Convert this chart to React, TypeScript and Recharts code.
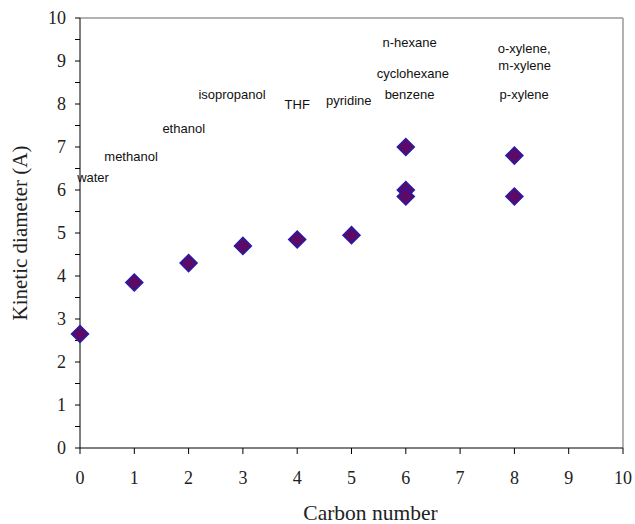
import React from "react";
import {
  ScatterChart,
  Scatter,
  XAxis,
  YAxis,
  ReferenceLine,
  Label,
} from "recharts";

// measured kinetic diameters against carbon number
const carbonNumber = [0, 1, 2, 3, 4, 5, 6, 6, 6, 8, 8];
const diameter = [2.65, 3.85, 4.3, 4.7, 4.85, 4.95, 7.0, 6.0, 5.85, 6.8, 5.85];

// molecule names and where they sit in data units
const labelText = [
  "water",
  "methanol",
  "ethanol",
  "isopropanol",
  "THF",
  "pyridine",
  "n-hexane",
  "cyclohexane",
  "benzene",
  "o-xylene,",
  "m-xylene",
  "p-xylene",
];
const labelX = [0.24, 0.94, 1.91, 2.8, 4.0, 4.95, 6.07, 6.13, 6.07, 8.18, 8.19, 8.18];
const labelY = [6.28, 6.79, 7.42, 8.23, 8.0, 8.09, 9.42, 8.7, 8.23, 9.3, 8.9, 8.23];

const xTicks = [0, 1, 2, 3, 4, 5, 6, 7, 8, 9, 10];
const yTicks = [
  0, 0.5, 1, 1.5, 2, 2.5, 3, 3.5, 4, 4.5, 5, 5.5, 6, 6.5, 7, 7.5, 8, 8.5, 9,
  9.5, 10,
];

const points = carbonNumber.map((c, i) => ({ x: c, y: diameter[i] }));
const labels = labelText.map((t, i) => ({ x: labelX[i], y: labelY[i], text: t }));

const serif = "'Liberation Serif', 'Times New Roman', serif";
const sans = "'Liberation Sans', Arial, sans-serif";

const Diamond = (props: any) => {
  const { cx, cy } = props;
  const r = 8.5;
  return (
    <polygon
      points={`${cx},${cy - r} ${cx + r},${cy} ${cx},${cy + r} ${cx - r},${cy}`}
      fill="#5c0a66"
      stroke="#2a1aa8"
      strokeWidth={1.5}
    />
  );
};

const NameLabel = (props: any) => {
  const { cx, cy, payload } = props;
  return (
    <text
      x={cx}
      y={cy}
      textAnchor="middle"
      dominantBaseline="central"
      fontFamily={sans}
      fontSize={13}
      fill="#111"
    >
      {payload.text}
    </text>
  );
};

export default function App() {
  return (
    <div
      style={{
        position: "absolute",
        left: 0,
        top: 0,
        width: 635,
        height: 524,
        overflow: "hidden",
        background: "#fff",
      }}
    >
      <ScatterChart
        width={635}
        height={524}
        margin={{ top: 18, right: 12, bottom: 0, left: 0 }}
      >
        <XAxis
          type="number"
          dataKey="x"
          domain={[0, 10]}
          ticks={xTicks}
          interval={0}
          height={76}
          tickSize={6}
          tickMargin={17}
          stroke="#000"
          tick={{ fill: "#222", fontFamily: serif, fontSize: 18 }}
        >
          <Label
            value="Carbon number"
            position="insideBottom"
            offset={4}
            dx={19}
            style={{ fill: "#222", fontFamily: serif, fontSize: 21.5 }}
          />
        </XAxis>
        <YAxis
          type="number"
          dataKey="y"
          domain={[0, 10]}
          ticks={yTicks}
          interval={0}
          width={80}
          tickSize={5}
          tickMargin={9}
          stroke="#000"
          tickFormatter={(v: number) => (Number.isInteger(v) ? String(v) : "")}
          tick={{ fill: "#222", fontFamily: serif, fontSize: 18 }}
        >
          <Label
            value="Kinetic diameter (A)"
            angle={-90}
            position="insideLeft"
            offset={20}
            style={{
              fill: "#222",
              fontFamily: serif,
              fontSize: 21,
              textAnchor: "middle",
            }}
          />
        </YAxis>
        <ReferenceLine y={10} stroke="#999" strokeWidth={1.5} />
        <ReferenceLine x={10} stroke="#999" strokeWidth={1.5} />
        <Scatter data={labels} shape={<NameLabel />} isAnimationActive={false} />
        <Scatter data={points} shape={<Diamond />} isAnimationActive={false} />
      </ScatterChart>
    </div>
  );
}
